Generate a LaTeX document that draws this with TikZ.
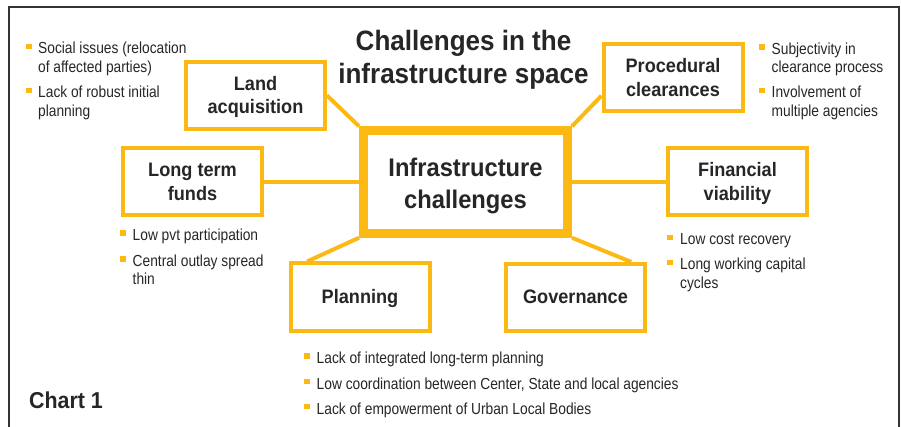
\documentclass[tikz,border=0pt]{standalone}
\usepackage{fontspec}
\setmainfont{Liberation Sans}
\newfontfamily\narrowfont{Liberation Sans}[FakeStretch=0.86]
\newfontfamily\headfont{Liberation Sans}[FakeStretch=0.93]
\usetikzlibrary{calc,backgrounds}
\definecolor{gold}{RGB}{253,185,19}
\definecolor{ink}{RGB}{38,38,38}
\definecolor{frameline}{RGB}{51,51,51}
% centred lines whose baseline is that of the first line
\newcommand\labelstack[1]{\begin{tabular}[t]{@{}c@{}}#1\end{tabular}}
\begin{document}
\begin{tikzpicture}[x=1pt,y=-1pt,
  boxbase/.style={draw=gold, line width=4pt, fill=white, minimum width=139pt,
    minimum height=67pt, inner sep=0pt, text=ink,
    font=\headfont\bfseries\fontsize{19.5}{23.5}\selectfont},
  box/.style={boxbase, text height=14pt, text depth=24pt},
  onebox/.style={boxbase, text height=14pt, text depth=2pt},
  hub/.style={draw=gold, line width=9pt, fill=white, minimum width=204pt,
    minimum height=102.5pt, inner sep=0pt, text=ink,
    text height=18pt, text depth=28pt,
    font=\headfont\bfseries\fontsize{25.5}{32}\selectfont},
  link/.style={draw=gold, line width=4pt},
  item/.style={anchor=base west, inner sep=0pt, text=ink,
    font=\narrowfont\fontsize{16}{18.5}\selectfont},
  sq/.style={fill=gold, minimum size=5.5pt, inner sep=0pt},
  heading/.style={align=center, inner sep=0pt, text=ink,
    font=\headfont\bfseries\fontsize{28}{33}\selectfont}
]
\useasboundingbox (0,0) rectangle (901,427);

% outer frame (open at the bottom)
\draw[frameline, line width=1.2pt] (9,427) -- (9,7) -- (899,7) -- (899,427);

% heading
\node[heading] (title) at (463.5,59.5) {Challenges in the\\infrastructure space};

% central hub and the six challenge boxes
\node[hub] (core) at (465.5,182) {\labelstack{Infrastructure\\challenges}};
\node[box] (land) at (255.5,95.5) {\labelstack{Land\\acquisition}};
\node[box] (proc) at (673,78) {\labelstack{Procedural\\clearances}};
\node[box] (ltf)  at (192.5,182) {\labelstack{Long term\\funds}};
\node[box] (fin)  at (737.5,182) {\labelstack{Financial\\viability}};
\node[onebox] (plan) at (360,297) {Planning};
\node[onebox] (gov)  at (575.5,297.5) {Governance};

% spokes from the hub
\begin{scope}[on background layer]
  \draw[link] (land.east) -- (core.north west);
  \draw[link] ($(proc.south west)!0.25!(proc.north west)$) -- (core.north east);
  \draw[link] (ltf.east) -- (ltf.east -| core.west);
  \draw[link] (fin.west) -- (fin.west -| core.east);
  \draw[link] (core.south west) -- ($(plan.north west)!0.13!(plan.north east)$);
  \draw[link] (core.south east) -- ($(gov.north west)!0.89!(gov.north east)$);
\end{scope}

% land acquisition notes
\node[sq] (la1s) at (29,46.5) {};
\node[item] (la1a) at (38,54) {Social issues (relocation};
\node[item] (la1b) at (38,72.5) {of affected parties)};
\node[sq] (la2s) at (29,90.5) {};
\node[item] (la2a) at (38,98) {Lack of robust initial};
\node[item] (la2b) at (38,116.5) {planning};

% procedural clearance notes
\node[sq] (pc1s) at (762,47) {};
\node[item] (pc1a) at (771.5,54.5) {Subjectivity in};
\node[item] (pc1b) at (771.5,73) {clearance process};
\node[sq] (pc2s) at (762,90.5) {};
\node[item] (pc2a) at (771.5,98) {Involvement of};
\node[item] (pc2b) at (771.5,116.5) {multiple agencies};

% long term funds notes
\node[sq] (lf1s) at (123,233.2) {};
\node[item] (lf1a) at (132.5,240.7) {Low pvt participation};
\node[sq] (lf2s) at (123,259.2) {};
\node[item] (lf2a) at (132.5,266.7) {Central outlay spread};
\node[item] (lf2b) at (132.5,285) {thin};

% financial viability notes
\node[sq] (fv1s) at (670,237.5) {};
\node[item] (fv1a) at (680,245) {Low cost recovery};
\node[sq] (fv2s) at (670,262.5) {};
\node[item] (fv2a) at (680,270) {Long working capital};
\node[item] (fv2b) at (680,288.5) {cycles};

% planning / governance notes
\node[sq] (pg1s) at (307,356) {};
\node[item] (pg1a) at (316.5,363.5) {Lack of integrated long-term planning};
\node[sq] (pg2s) at (307,381.5) {};
\node[item] (pg2a) at (316.5,389) {Low coordination between Center, State and local agencies};
\node[sq] (pg3s) at (307,406.5) {};
\node[item] (pg3a) at (316.5,414) {Lack of empowerment of Urban Local Bodies};

% chart caption
\node[anchor=base west, inner sep=0pt, text=ink,
  font=\headfont\bfseries\fontsize{23}{27}\selectfont] (caption) at (29,408) {Chart 1};
\end{tikzpicture}
\end{document}
